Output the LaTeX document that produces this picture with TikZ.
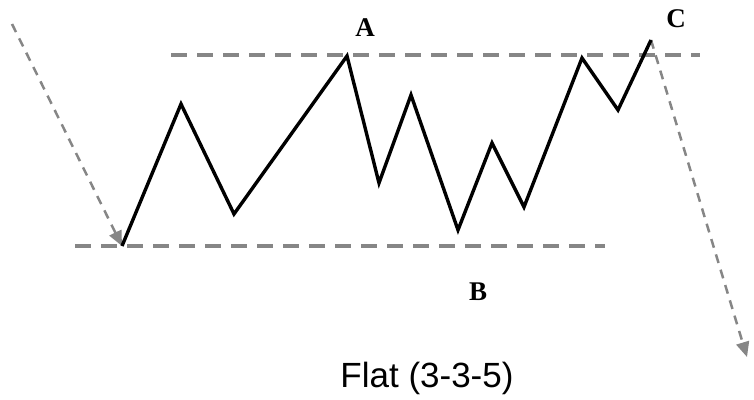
\documentclass[tikz,border=0pt]{standalone}
\usepackage{fontspec}
\setmainfont{Liberation Serif}
\newfontfamily\captionfont{Liberation Sans}
\usetikzlibrary{arrows.meta,positioning}

\begin{document}
\begin{tikzpicture}[
    x=1pt, y=-1pt,
    wave/.style={line width=3.4pt, black, line join=miter},
    level/.style={line width=4.5pt, gray!95, dash pattern=on 16pt off 10pt},
    trend/.style={line width=2.5pt, gray!95, dash pattern=on 9pt off 7pt, -{Triangle[length=15pt,width=13pt]}},
    letter/.style={font=\fontsize{27}{27}\selectfont\bfseries},
    caption/.style={font=\captionfont\fontsize{35}{35}\selectfont}
]
\useasboundingbox (0,0) rectangle (754,399);

% Wave points
\coordinate (p0) at (122,246);
\coordinate (p1) at (181,104);
\coordinate (p2) at (234,214);
\coordinate (p3) at (347,56);
\coordinate (p4) at (379,183);
\coordinate (p5) at (411,95);
\coordinate (p6) at (458,230);
\coordinate (p7) at (492,143);
\coordinate (p8) at (524,207);
\coordinate (p9) at (582,58);
\coordinate (p10) at (618,110);
\coordinate (p11) at (651,40);

% Level lines
\coordinate (topL) at (171,55);
\coordinate (topR) at (700,55);
\coordinate (botL) at (75,246);
\coordinate (botR) at (605,246);
\draw [level] (topL) -- (topR);
\draw [level] (botL) -- (botR);

% Trend in and out
\coordinate (start) at (12,24);
\coordinate (finish) at (747,357);
\draw [trend] (start) -- (p0);
\draw [trend] (p11) -- (finish);

% Flat
\draw [wave] (p0) -- (p1) -- (p2) -- (p3) -- (p4) -- (p5) -- (p6) -- (p7) -- (p8) -- (p9) -- (p10) -- (p11);

% Labels
\node [letter] (labelA) at (365,28) {A};
\node [letter] (labelB) at (478,292) {B};
\node [letter] (labelC) at (676,19) {C};
\node [caption] (title) at (427,378) {Flat (3-3-5)};

\end{tikzpicture}
\end{document}
